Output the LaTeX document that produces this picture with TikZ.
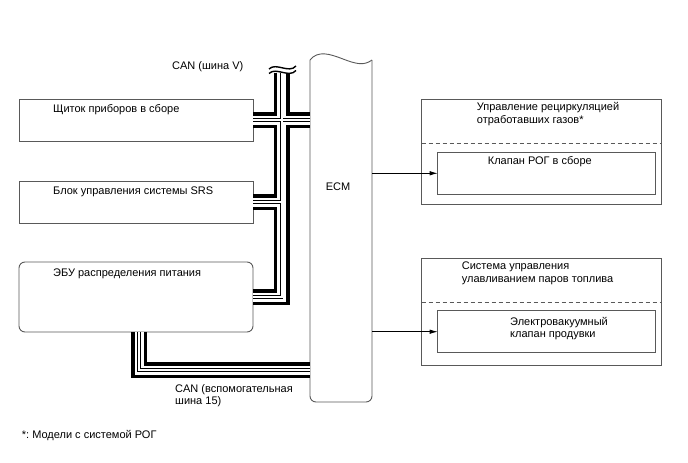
\documentclass[tikz,border=0pt]{standalone}
\usepackage{fontspec}
\setmainfont{Liberation Sans}
\usetikzlibrary{positioning,arrows.meta,calc}
\frenchspacing

\begin{document}
\begin{tikzpicture}[x=1pt,y=-1pt,
    font=\fontsize{11}{12.6}\selectfont,
    box/.style={draw=black!65,line width=0.9pt,inner sep=0pt,outer sep=0pt,anchor=north west},
    txt/.style={inner sep=0pt,anchor=base west},
    para/.style={inner sep=0pt,anchor=north west,align=left},
    outl/.style={draw=black!65,line width=0.9pt},
    arr/.style={line width=0.8pt,-{Latex[length=8pt,width=4.5pt]}}]
  \useasboundingbox (0,0) rectangle (688,463);

  % ECM column (wavy top, rounded foot)
  \node[inner sep=0pt,outer sep=0pt,anchor=north west,minimum width=62pt,minimum height=344pt] (ecm) at (310,58) {};
  \draw[outl] (310,60) .. controls (318,50) and (330,54) .. (343,59) .. controls (356,64) and (364,66) .. (372,60);
  \draw[outl,rounded corners=6pt] (372,60) -- (372,402) -- (310,402) -- (310,60);
  \node (ecmlbl) at (338,187) {ECM};

  % left units
  \node[box,minimum width=234pt,minimum height=42pt] (meter) at (19,99) {};
  \node[box,minimum width=234pt,minimum height=42pt] (srs) at (19,181) {};
  \node[box,rounded corners=6pt,minimum width=234pt,minimum height=70pt] (pdu) at (19,262) {};
  \node[txt] (meterlbl) at (53,112) {Щиток приборов в сборе};
  \node[txt] (srslbl) at (53,194) {Блок управления системы SRS};
  \node[txt] (pdulbl) at (53,276) {ЭБУ распределения питания};

  % CAN buses
  \coordinate (bustop) at (281.5,73);
  \coordinate (subbus) at (139,370);
  \foreach \w/\c in {16/black,9/white,3.6/black,2/white} {
    \draw[line width=\w pt,draw=\c,line join=miter] (bustop) -- (bustop |- pdu.east) -- (pdu.east);
    \draw[line width=\w pt,draw=\c] (meter.east) -- (meter.east -| ecm.west);
    \draw[line width=\w pt,draw=\c] (srs.east) -- (srs.east -| bustop);
    \draw[line width=\w pt,draw=\c,line join=miter] (subbus |- pdu.south) -- (subbus) -- (subbus -| ecm.west);
  }
  % break mark
  \draw[line width=1.4pt] (269,69) .. controls (276,62) and (289,74) .. (296,66);
  \draw[line width=1.4pt] (269,73.5) .. controls (276,66.5) and (289,78.5) .. (296,70.5);
  \node[txt] (canv) at (172,69) {CAN (шина V)};
  \node[para] (cansub) at (175,384) {CAN (вспомогательная\\шина 15)};

  % right units
  \node[box,minimum width=240pt,minimum height=105pt] (egr) at (421.7,99.3) {};
  \draw[outl,dash pattern=on 4pt off 3pt] (egr.west |- 0,143.3) -- (egr.east |- 0,143.3);
  \node[box,minimum width=217.3pt,minimum height=42pt] (egrvlv) at (437.7,152.3) {};
  \node[para] (egrlbl) at (476.7,102.5) {Управление рециркуляцией\\отработавших газов*};
  \node[txt] (egrvlvlbl) at (487.7,164) {Клапан РОГ в сборе};

  \node[box,minimum width=240pt,minimum height=107pt] (evap) at (421.7,258) {};
  \draw[outl,dash pattern=on 4pt off 3pt] (evap.west |- 0,302.7) -- (evap.east |- 0,302.7);
  \node[box,minimum width=217.3pt,minimum height=42pt] (vsv) at (437.7,310.7) {};
  \node[para] (evaplbl) at (461.7,262) {Система управления\\улавливанием паров топлива};
  \node[para] (vsvlbl) at (510,316.7) {Электровакуумный\\клапан продувки};

  \draw[arr] (egrvlv.west -| ecm.east) -- (egrvlv.west);
  \draw[arr] (vsv.west -| ecm.east) -- (vsv.west);

  \node[txt] (note) at (21.7,438) {*: Модели с системой РОГ};
\end{tikzpicture}
\end{document}
